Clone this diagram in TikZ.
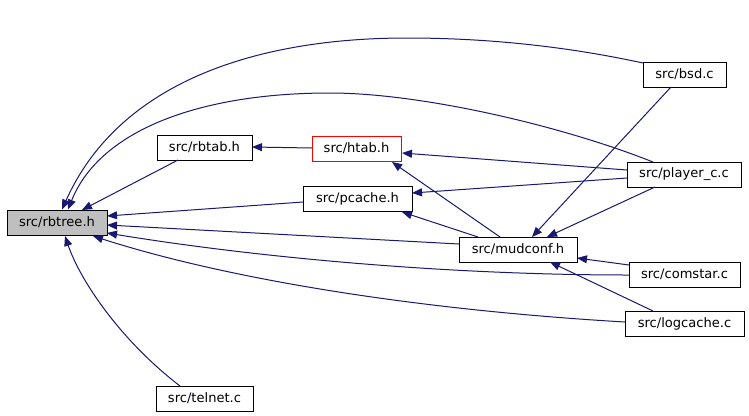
\documentclass[tikz,border=0pt]{standalone}
\usepackage{fontspec}
\setmainfont{DejaVu Sans}
\usetikzlibrary{arrows.meta,calc}
\definecolor{edgeblue}{HTML}{191970}
\definecolor{nodegray}{HTML}{BFBFBF}
\begin{document}
\begin{tikzpicture}[x=0.75pt,y=-0.75pt,
 box/.style={draw=black,line width=0.75pt,minimum height=18.75pt,inner sep=0pt,font=\fontsize{9.8}{12}\selectfont,fill=white},
 dep/.style={draw=edgeblue,line width=0.75pt,-{Triangle[length=7.5pt,width=6pt]}},
]
\useasboundingbox (0,0) rectangle (749,415);
\fill[white] (0,0) rectangle (749,415);
\node[box,fill=nodegray,minimum width=75pt] (rbtree) at (57,222.5) {src/rbtree.h};
\node[box,minimum width=71.25pt] (rbtab) at (204.5,147.5) {src/rbtab.h};
\node[box,draw=red,minimum width=66.75pt] (htab) at (356.5,148.5) {src/htab.h};
\node[box,minimum width=81.75pt] (pcache) at (357.5,198.5) {src/pcache.h};
\node[box,minimum width=88.5pt] (mudconf) at (518,249.5) {src/mudconf.h};
\node[box,minimum width=62.25pt] (bsd) at (684.5,74.5) {src/bsd.c};
\node[box,minimum width=85.5pt] (player) at (684,174.5) {src/player\_c.c};
\node[box,minimum width=83.25pt] (comstar) at (684.5,274.5) {src/comstar.c};
\node[box,minimum width=89.25pt] (logcache) at (684.5,323.5) {src/logcache.c};
\node[box,minimum width=72.75pt] (telnet) at (204.5,398.5) {src/telnet.c};
% edges to rbtree
\draw[dep] ($(bsd)+(-41.5,-11.5)$) .. controls (560,45) and (480,38) .. (407,38) .. controls (260,38) and (120,80) .. ($(rbtree)+(5,-13)$);
\draw[dep] ($(player)+(-31,-12.5)$) .. controls (560,125) and (420,93) .. (330,93) .. controls (200,93) and (100,130) .. ($(rbtree)+(11,-13)$);
\draw[dep] ($(rbtab)+(-26.5,12.5)$) -- ($(rbtree)+(25,-12.5)$);
\draw[dep] ($(pcache)+(-54.5,3.5)$) -- ($(rbtree)+(50,-6.5)$);
\draw[dep] ($(mudconf)+(-59,-5.5)$) -- ($(rbtree)+(50,2.5)$);
\draw[dep] ($(comstar)+(-55.5,0.5)$) .. controls (450,275) and (260,258) .. ($(rbtree)+(50,10.5)$);
\draw[dep] ($(logcache)+(-59.5,-1.5)$) .. controls (420,310) and (230,280) .. ($(rbtree)+(36,13.5)$);
\draw[dep] ($(telnet)+(-24.5,-12.5)$) .. controls (120,340) and (80,280) .. ($(rbtree)+(8,13.5)$);
% other edges
\draw[dep] ($(htab)+(-44.5,-0.5)$) -- ($(rbtab)+(47.5,-0.5)$);
\draw[dep] ($(player)+(-57,-4.5)$) -- ($(htab)+(45.5,4.5)$);
\draw[dep] ($(player)+(-57,3.5)$) -- ($(pcache)+(54.5,-5.5)$);
\draw[dep] ($(mudconf)+(-18,-12.5)$) -- ($(htab)+(35.5,13.5)$);
\draw[dep] ($(mudconf)+(-40,-12.5)$) -- ($(pcache)+(44.5,13.5)$);
\draw[dep] ($(bsd)+(-13.5,12.5)$) -- ($(mudconf)+(14,-12.5)$);
\draw[dep] ($(player)+(-29,12.5)$) -- ($(mudconf)+(29,-12.5)$);
\draw[dep] ($(comstar)+(-55.5,-9.5)$) -- ($(mudconf)+(59,8.5)$);
\draw[dep] ($(logcache)+(-31.5,-12.5)$) -- ($(mudconf)+(32,12.5)$);
\end{tikzpicture}
\end{document}
